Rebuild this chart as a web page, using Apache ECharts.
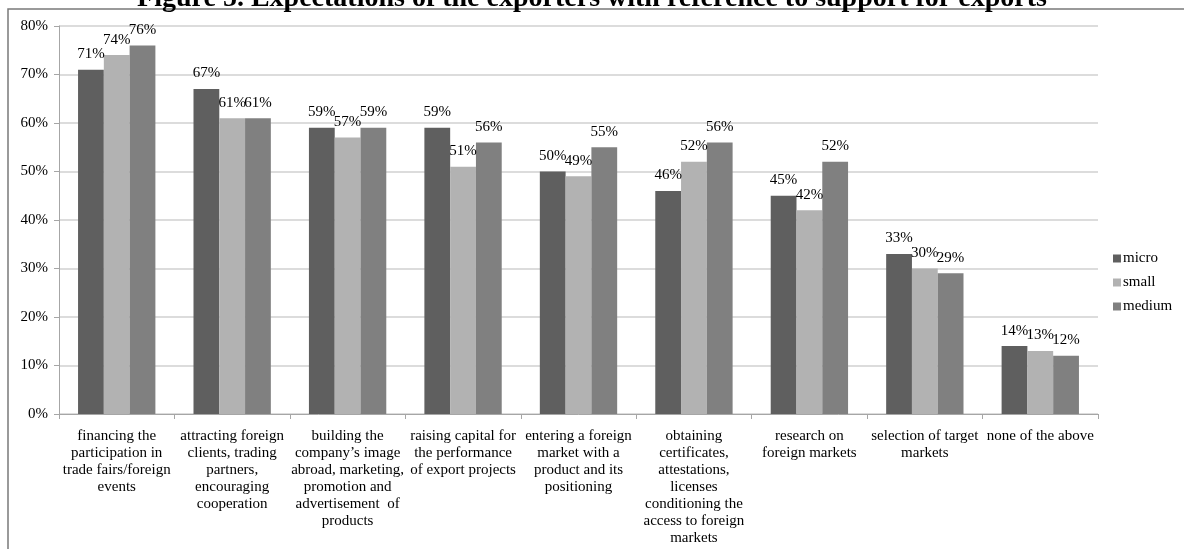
<!DOCTYPE html>
<html>
<head>
<meta charset="utf-8">
<script src="https://cdn.jsdelivr.net/npm/echarts@6/dist/echarts.min.js"></script>
<style>html,body{margin:0;padding:0;background:#fff;}#c{width:1184px;height:549px;}</style>
</head>
<body>
<div id="c"></div>
<script>
const titleText = 'Figure 5. Expectations of the exporters with reference to support for exports';
const categories = [
  'financing the\nparticipation in\ntrade fairs/foreign\nevents',
  'attracting foreign\nclients, trading\npartners,\nencouraging\ncooperation',
  'building the\ncompany\u2019s image\nabroad, marketing,\npromotion and\nadvertisement  of\nproducts',
  'raising capital for\nthe performance\nof export projects',
  'entering a foreign\nmarket with a\nproduct and its\npositioning',
  'obtaining\ncertificates,\nattestations,\nlicenses\nconditioning the\naccess to foreign\nmarkets',
  'research on\nforeign markets',
  'selection of target\nmarkets',
  'none of the above'
];
const seriesNames = ['micro', 'small', 'medium'];
const micro  = [71, 67, 59, 59, 50, 46, 45, 33, 14];
const small  = [74, 61, 57, 51, 49, 52, 42, 30, 13];
const medium = [76, 61, 59, 56, 55, 56, 52, 29, 12];
const yTicks = [0, 10, 20, 30, 40, 50, 60, 70, 80];

const colors = ['#5f5f5f', '#b2b2b2', '#808080'];
const FONT = '"Liberation Serif", "Times New Roman", serif';
const values = [micro, small, medium];

const chart = echarts.init(document.getElementById('c'), null, {renderer: 'canvas'});
chart.setOption({
  animation: false,
  backgroundColor: '#fff',
  title: {
    text: titleText,
    left: 'center',
    top: -20,
    textStyle: {fontFamily: FONT, fontSize: 28, fontWeight: 'bold', color: '#000'}
  },
  graphic: [{
    type: 'rect',
    shape: {x: 8, y: 9, width: 1400, height: 800},
    style: {fill: 'none', stroke: '#7a7a7a', lineWidth: 1.5},
    z: -1
  }],
  legend: {
    orient: 'vertical',
    left: 1108,
    top: 246,
    icon: 'rect',
    itemWidth: 8,
    itemHeight: 8,
    itemGap: 9,
    data: seriesNames,
    textStyle: {fontFamily: FONT, fontSize: 15, color: '#000', padding: [0, 0, 0, -3]}
  },
  grid: {left: 59, right: 86, top: 26, bottom: 135, containLabel: false},
  xAxis: {
    type: 'category',
    data: categories,
    axisLine: {lineStyle: {color: '#a6a6a6'}},
    axisTick: {show: true, length: 5, lineStyle: {color: '#a6a6a6'}},
    axisLabel: {interval: 0, fontFamily: FONT, fontSize: 15, color: '#000', lineHeight: 17, margin: 14}
  },
  yAxis: {
    type: 'value',
    min: yTicks[0],
    max: yTicks[yTicks.length - 1],
    interval: 10,
    axisLine: {show: true, lineStyle: {color: '#a6a6a6'}},
    axisTick: {show: true, length: 5, lineStyle: {color: '#a6a6a6'}},
    splitLine: {lineStyle: {color: '#d0d0d0', width: 1.5}},
    axisLabel: {fontFamily: FONT, fontSize: 15, color: '#000', margin: 11, formatter: v => v + '%'}
  },
  series: seriesNames.map((n, i) => ({
    name: n,
    type: 'bar',
    data: values[i],
    barGap: '0%',
    barCategoryGap: '33%',
    itemStyle: {color: colors[i]},
    label: {
      show: true,
      position: 'top',
      distance: 8,
      fontFamily: FONT,
      fontSize: 15,
      color: '#000',
      formatter: p => p.value + '%'
    }
  }))
});
</script>
</body>
</html>
